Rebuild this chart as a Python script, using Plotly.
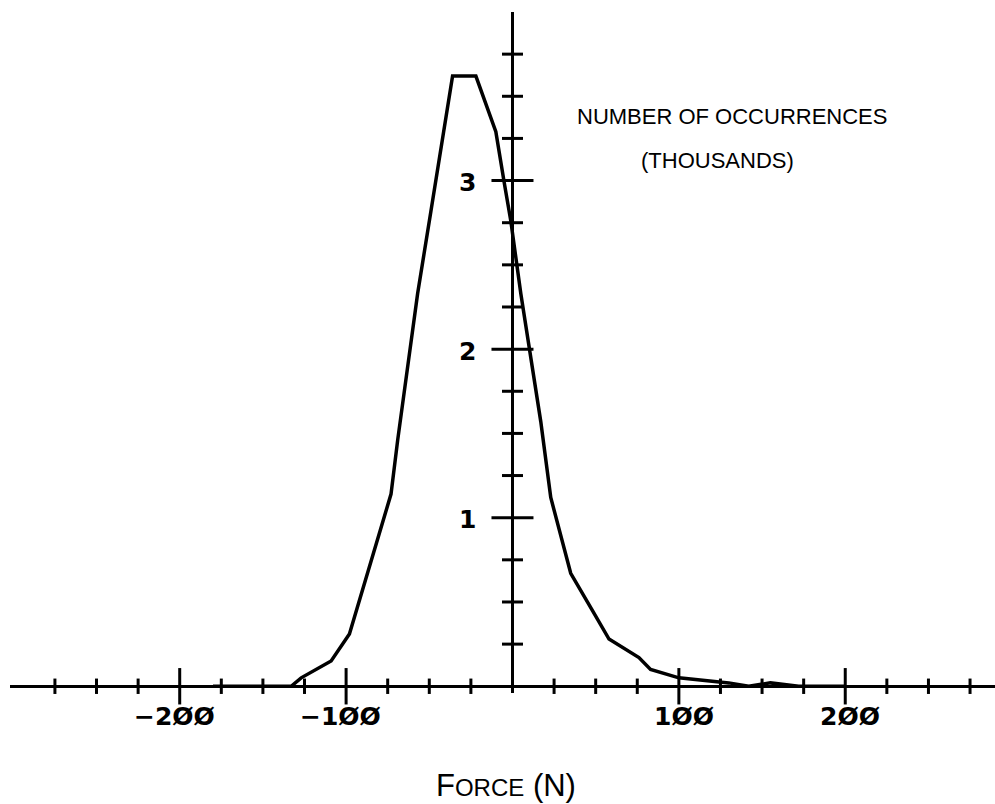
import plotly.graph_objects as go

# ---- data ----
force_n = [-180, -133, -127, -109, -98, -87, -81, -73, -69, -64, -57, -49, -36, -22,
           -10, -5, -1, 5, 14, 17, 23, 35, 48, 58, 76, 83, 100, 130, 142, 155, 172, 200]
occurrences_k = [0.0, 0.0, 0.05, 0.15, 0.31, 0.67, 0.88, 1.14, 1.46, 1.81, 2.33, 2.82, 3.62, 3.62,
                 3.29, 2.99, 2.76, 2.33, 1.75, 1.57, 1.12, 0.67, 0.45, 0.28, 0.17, 0.10, 0.05, 0.02,
                 0.0, 0.02, 0.0, 0.0]

x_major_ticks = [-200, -100, 100, 200]
x_tick_labels = ["\u22122\u00d8\u00d8", "\u22121\u00d8\u00d8", "1\u00d8\u00d8", "2\u00d8\u00d8"]
x_minor_ticks = [-275, -250, -225, -175, -150, -125, -75, -50, -25,
                 25, 50, 75, 125, 150, 175, 225, 250, 275]

y_major_ticks = [1, 2, 3]
y_tick_labels = ["1", "2", "3"]
y_minor_ticks = [0.25, 0.5, 0.75, 1.25, 1.5, 1.75, 2.25, 2.5, 2.75, 3.25, 3.5, 3.75]

title_line1 = "NUMBER OF OCCURRENCES"
title_line2 = "(THOUSANDS)"

fig = go.Figure()

# curve
fig.add_trace(go.Scatter(x=force_n, y=occurrences_k, mode="lines",
                         line=dict(color="black", width=3.5), hoverinfo="skip"))

# x-axis ticks (cross the y=0 line)
fig.add_trace(go.Scatter(x=x_minor_ticks, y=[0] * len(x_minor_ticks), mode="markers",
                         marker=dict(symbol="line-ns", size=11, line=dict(color="black", width=3)),
                         cliponaxis=False, hoverinfo="skip"))
fig.add_trace(go.Scatter(x=x_major_ticks, y=[0] * len(x_major_ticks), mode="markers",
                         marker=dict(symbol="line-ns", size=26, line=dict(color="black", width=3)),
                         cliponaxis=False, hoverinfo="skip"))
# y-axis ticks (cross the x=0 line)
fig.add_trace(go.Scatter(x=[0] * len(y_minor_ticks), y=y_minor_ticks, mode="markers",
                         marker=dict(symbol="line-ew", size=15, line=dict(color="black", width=3)),
                         cliponaxis=False, hoverinfo="skip"))
fig.add_trace(go.Scatter(x=[0] * len(y_major_ticks), y=y_major_ticks, mode="markers",
                         marker=dict(symbol="line-ew", size=30, line=dict(color="black", width=3)),
                         cliponaxis=False, hoverinfo="skip"))

annotations = []
tick_font = dict(family="DejaVu Sans", size=25, color="black")
for xv, lab in zip(x_major_ticks, x_tick_labels):
    annotations.append(dict(x=xv, y=0, xref="x", yref="y", text="<b>%s</b>" % lab,
                            showarrow=False, xanchor="right", yanchor="middle",
                            xshift=37, yshift=-30, font=tick_font))
for yv, lab in zip(y_major_ticks, y_tick_labels):
    annotations.append(dict(x=0, y=yv, xref="x", yref="y", text="<b>%s</b>" % lab,
                            showarrow=False, xanchor="center", yanchor="middle",
                            xshift=-45, yshift=-2, font=tick_font))

label_font = dict(family="Liberation Sans", size=22, color="black")
annotations.append(dict(x=132, y=3.38, xref="x", yref="y", text=title_line1,
                        showarrow=False, xanchor="center", yanchor="middle", font=label_font))
annotations.append(dict(x=123, y=3.12, xref="x", yref="y", text=title_line2,
                        showarrow=False, xanchor="center", yanchor="middle", font=label_font))
annotations.append(dict(x=-4, y=0, xref="x", yref="y",
                        text='F<span style="font-size:24px">ORCE</span> (N)',
                        showarrow=False, xanchor="center", yanchor="middle", yshift=-99,
                        font=dict(family="Liberation Sans", size=31, color="black")))

fig.update_layout(
    width=995, height=804,
    margin=dict(l=10, r=0, t=12, b=111),
    paper_bgcolor="white", plot_bgcolor="white",
    showlegend=False,
    annotations=annotations,
    xaxis=dict(range=[-302, 290], showgrid=False, showticklabels=False, ticks="",
               zeroline=True, zerolinecolor="black", zerolinewidth=3, showline=False,
               fixedrange=True),
    yaxis=dict(range=[-0.04, 4.0], showgrid=False, showticklabels=False, ticks="",
               zeroline=True, zerolinecolor="black", zerolinewidth=3, showline=False,
               fixedrange=True),
)

fig.write_html("out.html", config={"displayModeBar": False},
               post_script="document.body.style.margin='0';document.body.style.overflow='hidden';")
